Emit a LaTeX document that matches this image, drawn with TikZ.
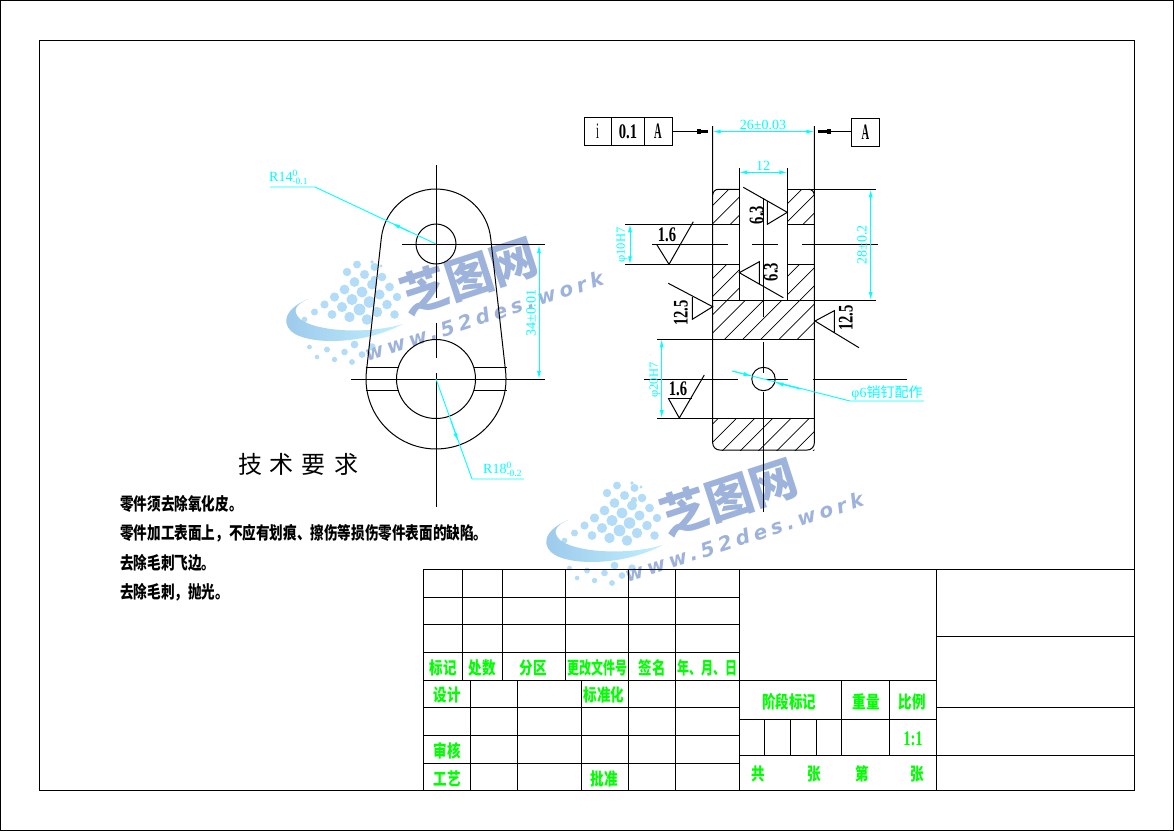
\documentclass[tikz,border=0pt]{standalone}
\usepackage{fontspec}
\usepackage{graphicx}
\setmainfont{Liberation Serif}
\newfontfamily\cjk{Noto Sans CJK SC}
\newfontfamily\wmfont[LetterSpace=22]{DejaVu Sans}
\usetikzlibrary{arrows.meta,calc}
\definecolor{cadcyan}{RGB}{0,255,255}
\definecolor{cadgreen}{RGB}{0,255,0}
\definecolor{wmblue}{RGB}{157,179,220}
\definecolor{wmdot}{RGB}{178,220,247}
\definecolor{wmleft}{RGB}{156,200,234}
\definecolor{wmright}{RGB}{192,240,255}
\tikzset{
  lin/.style={draw=black,line width=1pt},
  thin line/.style={draw=black,line width=0.7pt},
  dim/.style={draw=cadcyan,line width=0.9pt},
  dimboth/.style={dim,{Latex[length=8pt,width=4pt]}-{Latex[length=8pt,width=4pt]}},
  dimtip/.style={dim,-{Latex[length=8pt,width=4pt]}},
  dimtext/.style={text=cadcyan,font=\fontsize{14}{15}\selectfont,inner sep=0pt},
  dimsmall/.style={dimtext,font=\fontsize{12.5}{13}\selectfont},
  lab/.style={text=cadgreen,font=\cjk\bfseries\fontsize{13.5}{14}\selectfont,inner sep=0pt},
  labn/.style={lab,font=\cjk\bfseries\fontsize{12}{13}\selectfont},
  note/.style={text=black,font=\cjk\bfseries\fontsize{13.6}{14}\selectfont,inner sep=0pt,anchor=west},
  rough/.style={text=black,font=\bfseries\fontsize{17}{18}\selectfont,inner sep=0pt},
}
\newcommand{\nar}[1]{\scalebox{0.86}[1.22]{#1}}
\newcommand{\narr}[1]{\scalebox{0.62}[1.3]{#1}}
\newcommand{\lb}[1]{\scalebox{1}[1.28]{#1}}
\newcommand{\lbb}[1]{\scalebox{1}[1.45]{#1}}
\newcommand{\tol}[3]{#1\rlap{\raisebox{5pt}{\fontsize{9.5}{10}\selectfont #2}}\raisebox{-3pt}{\fontsize{9.5}{10}\selectfont #3}}
\newcommand{\hatchbox}[4]{%
  \begin{scope}
    \clip (#1,#2) rectangle (#3,#4);
    \foreach \k in {0,...,24}{
      \pgfmathsetmacro{\cc}{900+18.2*\k}
      \draw[thin line] ({\cc-150},150) -- ({\cc-500},500);
    }
  \end{scope}}
\newcommand{\wmark}{%
  \foreach \uu in {-7,...,7}{
    \foreach \vv in {-7,...,7}{
      \pgfmathsetmacro{\px}{602+10*\uu+7.5*\vv}
      \pgfmathsetmacro{\py}{528-7.5*\uu+10*\vv}
      \pgfmathsetmacro{\dd}{sqrt((\px-602)^2+(\py-532)^2)}
      \pgfmathsetmacro{\keep}{(\dd<58)&&(52*(\px-573)+47*(\py-530)>=0)&&(\py<543||\py>563)?1:0}
      \ifdim\keep pt>0.5pt
        \pgfmathsetmacro{\dq}{sqrt((\px-622)^2+(\py-525)^2)}
        \pgfmathsetmacro{\rr}{max(1.6,6.2*(1-\dq/110))}
        \fill[wmdot] (\px,\py) circle (\rr pt);
      \fi
    }
  }
  \fill[wmdot] (632,483) circle (1.8pt) (641,487) circle (1.6pt) (634,500) circle (3.2pt);
  \shade[left color=wmleft,right color=wmright]
    (568,520) .. controls (555,526) and (552,532) .. (560,540)
    .. controls (575,552) and (625,556) .. (663,545)
    .. controls (625,565) and (575,566) .. (555,555)
    .. controls (543,548) and (540,532) .. (568,520) -- cycle;
  \node[text=wmblue,font=\cjk\bfseries\fontsize{47}{49}\selectfont,rotate=18,inner sep=0pt] (wmA) at (729,497) {芝图网};
  \node[text=wmblue,font=\wmfont\bfseries\itshape\fontsize{20}{21}\selectfont,rotate=18,inner sep=0pt] (wmB) at (744,537) {www.52des.work};
}
\begin{document}
\begin{tikzpicture}[x=1pt,y=-1pt]
\useasboundingbox (0,0) rectangle (1174,831);
\fill[white] (0,0) rectangle (1174,831);
% watermarks
\begin{scope}[shift={(-260,-221)}]\wmark\end{scope}
\begin{scope}\wmark\end{scope}
% frames
\draw[lin] (0.5,0.5) rectangle (1173.5,830.5);
\draw[lin] (39.5,40.5) rectangle (1134.5,790.5);

% ---- left view
\draw[lin] (381.34,237.9) arc[start angle=173.62,end angle=6.38,radius=55pt]
  -- (505.57,371.2) arc[start angle=6.38,end angle=-186.38,radius=70pt] -- cycle;
\draw[lin] (436,244) circle (20pt);
\draw[lin] (436,379) circle (39.5pt);
\draw[lin] (365.5,367.3) -- (398.5,367.3) (365.5,390) -- (398.5,390);
\draw[lin] (473.5,367.3) -- (506.5,367.3) (473.5,390) -- (506.5,390);
\draw[lin] (436,165) -- (436,298) (436,323) -- (436,358) (436,373) -- (436,507);
\draw[lin] (402,244.5) -- (545,244.5) (351,379.5) -- (545,379.5);
% left view dims
\draw[dimboth] (539,245) -- (539,379);
\node[dimtext,rotate=90] (d34) at (531,313) {34±0.01};
\draw[dim] (270,187) -- (315,187) -- (436,244);
\draw[dimtip] (410,232) -- (392,223.3);
\node[dimtext,anchor=south west] (r14) at (269,185) {\tol{R14}{0}{-0.1}};
\draw[dim] (436,379) -- (472,479) -- (524,479);
\draw[dimtip] (451,421) -- (458,441);
\node[dimtext,anchor=south west] (r18) at (483,477) {\tol{R18}{0}{-0.2}};

% ---- right view: hatching
\hatchbox{712.7}{189.3}{739.3}{224.3}
\hatchbox{787.3}{189.3}{814.3}{224.3}
\hatchbox{712.7}{264.3}{739.3}{300}
\hatchbox{787.3}{264.3}{814.3}{300}
\hatchbox{712.7}{300}{814.3}{339.3}
\hatchbox{712.7}{418}{814.3}{450}
% right view: outline
\draw[lin] (712.7,126) -- (712.7,443) arc[start angle=180,end angle=270,radius=7pt] -- (807.3,450) arc[start angle=270,end angle=360,radius=7pt] -- (814.3,126);
\draw[lin] (712.7,195) arc[start angle=180,end angle=90,radius=5.7pt] -- (739.3,189.3);
\draw[lin] (787.3,189.3) -- (875.7,189.3);
\draw[lin] (814.3,195) arc[start angle=0,end angle=90,radius=5.7pt];
\draw[lin] (739.3,168) -- (739.3,300) (787.3,168) -- (787.3,300);
\draw[lin] (712.7,300) -- (875.7,300);
\draw[lin] (625,224.3) -- (739.3,224.3) (787.3,224.3) -- (814.3,224.3);
\draw[lin] (625,264.3) -- (739.3,264.3) (787.3,264.3) -- (814.3,264.3);
\draw[lin] (657,339.3) -- (814.3,339.3) (657,418) -- (814.3,418);
% centre lines
\draw[lin] (763.5,198) -- (763.5,316.7) (763.5,342) -- (763.5,373) (763.5,392) -- (763.5,512);
\draw[lin] (652,244.3) -- (727.7,244.3) (752,244.3) -- (777.7,244.3) (802,244.3) -- (878,244.3);
\draw[lin] (644,379) -- (737.7,379) (765.7,379) -- (787.7,379) (812.7,379) -- (907,379);
\draw[lin] (763.5,379) circle (11.7pt);
% tolerance frame
\draw[lin] (584.5,117.6) rectangle (672.3,145.3);
\draw[lin] (611.3,117.6) -- (611.3,145.3) (644.3,117.6) -- (644.3,145.3);
\node[rough,font=\fontsize{17}{18}\selectfont] (fr1) at (597.5,131.5) {\narr{i}};
\node[rough] (fr2) at (628,131.5) {\nar{0.1}};
\node[rough] (fr3) at (658,131.5) {\narr{A}};
\draw[lin] (672.3,131.6) -- (697,131.6);
\draw[draw=black,line width=2.6pt] (697,131.6) -- (708.3,131.6);
\fill[black] (696.7,129) rectangle (700.5,134.2);
\draw[lin] (851.7,118.3) rectangle (879.3,146.3);
\node[rough] (fr4) at (865.5,132) {\narr{A}};
\draw[lin] (851.7,131.6) -- (831,131.6);
\draw[draw=black,line width=2.6pt] (831,131.6) -- (818.3,131.6);
\fill[black] (827,129) rectangle (831,134.2);
% dims
\draw[dimboth] (712.7,131.6) -- (814.3,131.6);
\node[dimtext] (d26) at (763,125) {26±0.03};
\draw[dimboth] (739.3,172.3) -- (787.3,172.3);
\node[dimtext] (d12) at (763,166) {12};
\draw[dimboth] (870.7,189.3) -- (870.7,300);
\node[dimtext,rotate=90] (d28) at (862,245) {28±0.2};
\draw[dimboth] (630,224.3) -- (630,264.3);
\node[dimsmall,rotate=90] (d10) at (622,245) {φ10H7};
\draw[dimboth] (661.7,339.3) -- (661.7,418);
\node[dimsmall,rotate=90] (d20) at (655,380) {φ20H7};
\draw[dim] (732.3,371) -- (850,401) -- (924,401);
\draw[dimtip] (732.3,371) -- (751.5,376);
\draw[dimtip] (800,389) -- (775.5,382.5);
\node[dimtext,anchor=south] (d6) at (887,400.5) {φ6{\cjk 销钉配作}};
% roughness symbols
\node[rough] (s1) at (667,234.5) {\nar{1.6}};
\draw[lin] (657,245) -- (669,264.3) -- (693.3,221.7);
\node[rough,rotate=90] (s2) at (756.7,215) {\nar{6.3}};
\draw[lin] (743.3,187.3) -- (787.3,212.3) -- (767.3,224.3) -- (767.3,201);
\node[rough,rotate=90] (s3) at (771,272) {\nar{6.3}};
\draw[lin] (783.3,297.7) -- (739.3,272.7) -- (759.3,261.7) -- (759.3,283.3);
\node[rough,rotate=90] (s4) at (681,313) {\nar{12.5}};
\draw[lin] (668.3,283.3) -- (712.7,306.7) -- (692.3,319.3) -- (692.3,297);
\node[rough,rotate=90] (s5) at (846,318) {\nar{12.5}};
\draw[lin] (859,347.7) -- (815,321) -- (834.3,310.7) -- (834.3,332.7);
\node[rough] (s6) at (678,389) {\nar{1.6}};
\draw[lin] (668.3,398.3) -- (691.7,398.3);
\draw[lin] (668.3,398.3) -- (679.3,418) -- (704.3,375);

% ---- technical notes
\node[text=black,font=\cjk\fontsize{24}{26}\selectfont,inner sep=0pt] (title) at (298,464) {技\hspace{8pt}术\hspace{8pt}要\hspace{8pt}求};
\node[note] (n1) at (120,504) {\lb{零件须去除氧化皮。}};
\node[note] (n2) at (120,533) {\lb{零件加工表面上，不应有划痕、擦伤等损伤零件表面的缺陷。}};
\node[note] (n3) at (120,563) {\lb{去除毛刺飞边。}};
\node[note] (n4) at (120,592) {\lb{去除毛刺，抛光。}};

% ---- title block
\draw[lin] (423.5,569.3) -- (1134.5,569.3) (423.5,569.3) -- (423.5,790.5);
\foreach \yy in {597.3,624.3,652.3}{\draw[lin] (423.5,\yy) -- (739.3,\yy);}
\foreach \yy in {680.3,707.3,735,763.3}{\draw[lin] (423.5,\yy) -- (739.3,\yy);}
\foreach \xx in {462.7,502.3,565.7}{\draw[lin] (\xx,569.3) -- (\xx,680.3);}
\foreach \xx in {470.7,517.7,581.7}{\draw[lin] (\xx,680.3) -- (\xx,790.5);}
\foreach \xx in {628.7,675.7}{\draw[lin] (\xx,569.3) -- (\xx,790.5);}
\draw[lin] (739.3,569.3) -- (739.3,790.5) (936.3,569.3) -- (936.3,790.5);
\draw[lin] (739.3,680.3) -- (936.3,680.3) (739.3,719.3) -- (936.3,719.3);
\draw[lin] (936.3,636.3) -- (1134.5,636.3) (936.3,707.3) -- (1134.5,707.3);
\draw[lin] (739.3,755.3) -- (1134.5,755.3);
\draw[lin] (841.3,680.3) -- (841.3,755.3) (889.3,680.3) -- (889.3,755.3);
\foreach \xx in {764.3,790.3,816.3}{\draw[lin] (\xx,719.3) -- (\xx,755.3);}
% labels
\node[lab] (l1) at (443,668) {\lb{标记}};
\node[lab] (l2) at (482,668) {\lb{处数}};
\node[lab] (l3) at (533,668) {\lb{分区}};
\node[labn] (l4) at (597,668) {\lbb{更改文件号}};
\node[lab] (l5) at (652,668) {\lb{签名}};
\node[labn] (l6) at (707,668) {\lbb{年、月、日}};
\node[lab] (l7) at (447,695) {\lb{设计}};
\node[lab] (l8) at (604,695) {\lb{标准化}};
\node[lab] (l9) at (447,751) {\lb{审核}};
\node[lab] (l10) at (447,779) {\lb{工艺}};
\node[lab] (l11) at (604,779) {\lb{批准}};
\node[lab] (l12) at (789,702) {\lb{阶段标记}};
\node[lab] (l13) at (866,702) {\lb{重量}};
\node[lab] (l14) at (912,702) {\lb{比例}};
\node[lab,font=\bfseries\fontsize{17}{18}\selectfont] (l15) at (913,739) {\nar{1:1}};
\node[lab] (l16) at (758,774) {\lb{共}};
\node[lab] (l17) at (814,774) {\lb{张}};
\node[lab] (l18) at (862,774) {\lb{第}};
\node[lab] (l19) at (917,774) {\lb{张}};
\end{tikzpicture}
\end{document}
